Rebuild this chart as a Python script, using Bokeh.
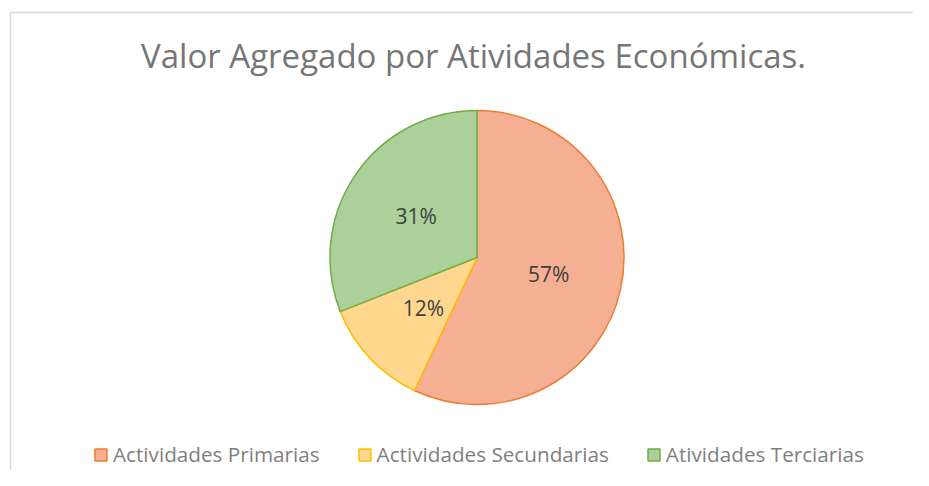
import math
from bokeh.plotting import figure
from bokeh.models import Range1d, ColumnDataSource, Legend, LegendItem
from bokeh.core.properties import value
from bokeh.embed import file_html
from bokeh.resources import INLINE

# ---- data ----
categories = ["Actividades Primarias", "Actividades Secundarias", "Atividades Terciarias"]
shares = [57, 12, 31]
labels = ["57%", "12%", "31%"]
fill_colors = ["#F5B093", "#FFD78F", "#ACD09A"]
line_colors = ["#ED7D31", "#FFC000", "#70AD47"]
title_text = "Valor Agregado por Atividades Económicas."

W, H = 913, 470
p = figure(width=W, height=H, output_backend="svg", toolbar_location=None,
           x_range=Range1d(0, W), y_range=Range1d(0, H), min_border=0)
p.axis.visible = False
p.grid.visible = False
p.outline_line_color = None
p.background_fill_color = "white"
p.border_fill_color = "white"

# chart-area border (cropped on right and bottom)
p.line([10, W], [458, 458], line_color="#D9D9D9", line_width=1.5)
p.line([10, 10], [458, 0], line_color="#D9D9D9", line_width=1.5)

cx, cy, r = 476.5, 213.0, 147.0
total = float(sum(shares))
starts, ends, lx, ly = [], [], [], []
cum = 0.0
for s in shares:
    a0 = math.pi / 2 - 2 * math.pi * cum / total
    a1 = math.pi / 2 - 2 * math.pi * (cum + s) / total
    mid = (a0 + a1) / 2
    starts.append(a0)
    ends.append(a1)
    lx.append(cx + 0.5 * r * math.cos(mid))
    ly.append(cy + 0.5 * r * math.sin(mid))
    cum += s

src = ColumnDataSource(dict(lx=lx, ly=ly, lab=labels))
renderers = []
for i in range(len(categories)):
    rr = p.wedge(x=cx, y=cy, radius=r, start_angle=starts[i], end_angle=ends[i],
                 direction="clock", fill_color=fill_colors[i], line_color=line_colors[i],
                 line_width=1.5)
    renderers.append(rr)

p.text(x="lx", y="ly", text="lab", source=src, text_align="center", text_baseline="middle",
       text_font=value("Open Sans"), text_font_size="21px", text_color="#404040")

p.text(x=[473], y=[415], text=[title_text], text_align="center", text_baseline="alphabetic",
       text_font=value("Open Sans"), text_font_size="33px", text_color="#767676")

legend = Legend(items=[LegendItem(label=categories[i], renderers=[renderers[i]]) for i in range(3)],
                orientation="horizontal", location=(93, 2),
                glyph_width=15, glyph_height=15, label_standoff=5, spacing=37,
                padding=0, margin=0, border_line_color=None, background_fill_alpha=0,
                label_text_font="Open Sans", label_text_font_size="20.7px",
                label_text_color="#7F7F7F")
p.add_layout(legend)

open("out.html", "w").write(file_html(p, INLINE))
